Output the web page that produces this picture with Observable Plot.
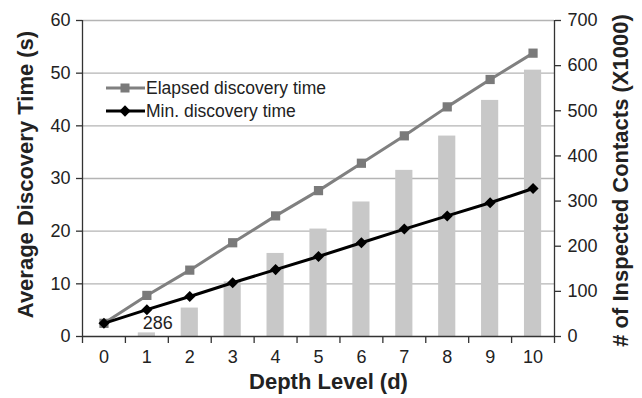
<!DOCTYPE html>
<html><head><meta charset="utf-8">
<script src="https://cdn.jsdelivr.net/npm/d3@7"></script>
<script src="https://cdn.jsdelivr.net/npm/@observablehq/plot@0.6"></script>
<style>
body{margin:0;background:#fff;}
#chart{position:relative;width:642px;height:398px;font-family:"Liberation Sans",Arial,Helvetica,sans-serif;}
#chart svg{font-family:"Liberation Sans",Arial,Helvetica,sans-serif;}
.leg{position:absolute;left:106px;height:22px;display:flex;align-items:center;font-size:17.5px;color:#222;white-space:nowrap;}
.leg svg{display:block;margin-right:1px;}
</style></head><body><div id="chart"></div>
<script>
const depth = [0,1,2,3,4,5,6,7,8,9,10];
const elapsed = [2.5,7.8,12.6,17.8,22.9,27.7,32.9,38.1,43.6,48.8,53.8];
const minTime = [2.5,5.1,7.6,10.2,12.7,15.2,17.8,20.4,22.9,25.4,28.1];
const contacts = [0,8,63,121,184,238,298,368,444,523,590];
const barLabels = [{depth:1, value:8, text:"286"}];
const leftTicks = [0,10,20,30,40,50,60];
const rightTicks = [0,100,200,300,400,500,600,700];
const xTickEdges = [-0.5,0.5,1.5,2.5,3.5,4.5,5.5,6.5,7.5,8.5,9.5,10.5];
const seriesNames = ["Elapsed discovery time","Min. discovery time"];

const k = 60/700;
const rows = depth.map((d,i)=>({d, elapsed:elapsed[i], min:minTime[i], contacts:contacts[i]}));
const axisColor = "#333";

const plot = Plot.plot({
  width:642, height:398,
  marginTop:20, marginBottom:62, marginLeft:82, marginRight:88,
  style:{fontFamily:'"Liberation Sans",Arial,sans-serif', color:"#222", background:"#fff"},
  x:{type:"linear", domain:[-0.5,10.5], axis:null},
  y:{type:"linear", domain:[0,60], axis:null},
  marks:[
    Plot.gridY(leftTicks.slice(1), {stroke:"#b4b4b4", strokeOpacity:1, strokeWidth:1.3}),
    Plot.rectY(rows, {x1:d=>d.d-0.2, x2:d=>d.d+0.2, y1:0, y2:d=>d.contacts*k, fill:"#c8c8c8"}),
    Plot.text(barLabels, {x:"depth", y:d=>d.value*k, text:"text", dx:11, dy:-10, fontSize:18, fill:"#222"}),
    Plot.line(rows, {x:"d", y:"elapsed", stroke:"#808080", strokeWidth:3}),
    Plot.dot(rows, {x:"d", y:"elapsed", symbol:"square", r:5.2, fill:"#7a7a7a", stroke:"none"}),
    Plot.line(rows, {x:"d", y:"min", stroke:"#000", strokeWidth:3}),
    Plot.dot(rows, {x:"d", y:"min", symbol:"square", r:4.4, rotate:45, fill:"#000", stroke:"none"}),
    Plot.ruleY([0], {stroke:axisColor, strokeWidth:1.3}),
    Plot.ruleX([-0.5], {stroke:axisColor, strokeWidth:1.3}),
    Plot.ruleX([10.5], {stroke:axisColor, strokeWidth:1.3}),
    Plot.axisX(xTickEdges, {tickSize:7, tickFormat:()=>"", stroke:axisColor, strokeWidth:1.3}),
    Plot.axisX(depth, {tickSize:0, tickPadding:14, fontSize:18, tickFormat:d=>String(d)}),
    Plot.axisY(leftTicks, {anchor:"left", tickSize:6, tickPadding:6, fontSize:18, stroke:axisColor, strokeWidth:1.3, label:null}),
    Plot.axisY(rightTicks.map(v=>v*k), {anchor:"right", tickSize:6, tickPadding:7, fontSize:18, stroke:axisColor, strokeWidth:1.3, label:null, tickFormat:v=>String(Math.round(v/k))}),
    Plot.text(["Average Discovery Time (s)"], {frameAnchor:"left", textAnchor:"middle", lineAnchor:"middle", rotate:-90, dx:-57, dy:-4, fontSize:22, fontWeight:"bold", fill:"#222"}),
    Plot.text(["# of Inspected Contacts (X1000)"], {frameAnchor:"right", textAnchor:"middle", lineAnchor:"middle", rotate:-90, dx:66, dy:2, fontSize:22, fontWeight:"bold", fill:"#222"}),
    Plot.text(["Depth Level (d)"], {frameAnchor:"bottom", textAnchor:"middle", lineAnchor:"middle", dx:10, dy:45, fontSize:22, fontWeight:"bold", fill:"#222"})
  ]
});
const chart = document.getElementById("chart");
chart.appendChild(plot);

// legend overlay
const legSpec = [
  {name:seriesNames[0], color:"#808080", mark:"#7a7a7a", shape:"square", top:77},
  {name:seriesNames[1], color:"#000", mark:"#000", shape:"diamond", top:100}
];
for (const s of legSpec) {
  const div = document.createElement("div");
  div.className = "leg";
  div.style.top = s.top + "px";
  const markSvg = s.shape === "square"
    ? `<rect x="14.5" y="6.5" width="9" height="9" fill="${s.mark}"/>`
    : `<rect x="15" y="7" width="8" height="8" fill="${s.mark}" transform="rotate(45 19 11)"/>`;
  div.innerHTML = `<svg width="39" height="22"><line x1="0" x2="39" y1="11" y2="11" stroke="${s.color}" stroke-width="3"/>${markSvg}</svg><span>${s.name}</span>`;
  chart.appendChild(div);
}
</script>
</body></html>
